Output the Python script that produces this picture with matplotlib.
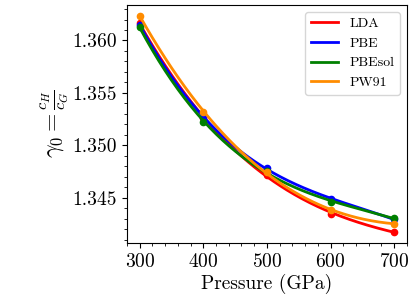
import numpy as np
import matplotlib
matplotlib.use('Agg')
import matplotlib.pyplot as plt

plt.rcParams['font.family'] = 'serif'
plt.rcParams['font.serif'] = ['cmr10']
plt.rcParams['mathtext.fontset'] = 'cm'
plt.rcParams['axes.formatter.use_mathtext'] = True

# pressures (GPa) and gamma_0 for each functional
pressure = [300, 400, 500, 600, 700]
lda = [1.36163, 1.35258, 1.34720, 1.34347, 1.34172]
pbe = [1.36150, 1.35265, 1.34780, 1.34488, 1.34292]
pbesol = [1.36125, 1.35222, 1.34750, 1.34460, 1.34302]
pw91 = [1.36236, 1.35320, 1.34740, 1.34380, 1.34252]

labels = ['LDA', 'PBE', 'PBEsol', 'PW91']
colors = ['red', 'blue', 'green', 'darkorange']

fig = plt.figure(figsize=(4.11, 3.07), dpi=100)
ax = fig.add_axes([0.309, 0.208, 0.681, 0.776])

x = np.array(pressure)
xfine = np.linspace(300, 700, 200)
for vals, lab, c in zip([lda, pbe, pbesol, pw91], labels, colors):
    coef = np.polyfit(x, vals, 3)
    ax.plot(xfine, np.polyval(coef, xfine), color=c, lw=2, label=lab)
    ax.plot(x, vals, 'o', color=c, ms=4.5)

ax.set_xticks([300, 400, 500, 600, 700])
ax.set_yticks([1.345, 1.350, 1.355, 1.360])
ax.set_yticklabels(['1.345', '1.350', '1.355', '1.360'])
ax.minorticks_on()
ax.tick_params(labelsize=14)
ax.set_xlabel('Pressure (GPa)', fontsize=14, labelpad=2)
ax.set_ylabel(r'$\gamma_0 = \frac{c_H}{c_G}$', fontsize=17, labelpad=2)
ax.legend(loc='upper right', fontsize=10)

plt.savefig('out.png', dpi=100)
